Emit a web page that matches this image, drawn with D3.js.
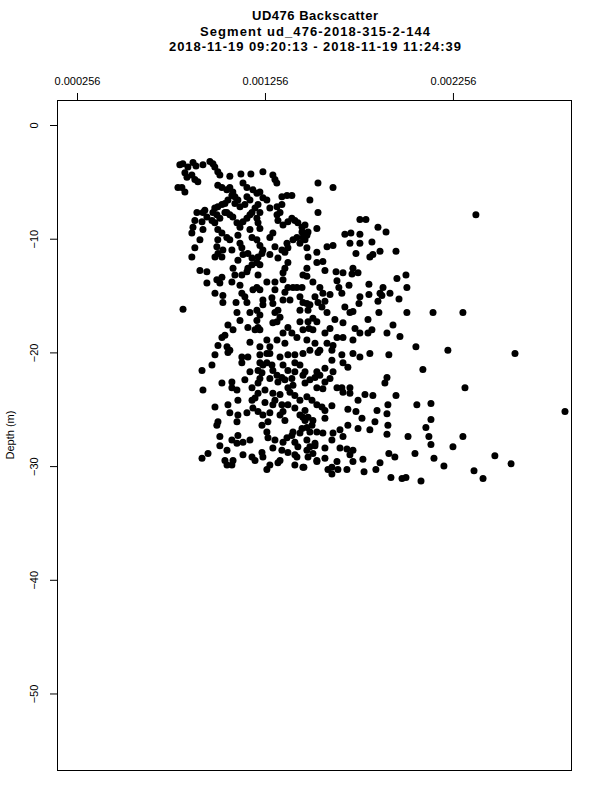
<!DOCTYPE html>
<html>
<head>
<meta charset="utf-8">
<script src="https://cdn.jsdelivr.net/npm/d3@7"></script>
<style>
body { margin: 0; background: #fff; }
text { font-family: "Liberation Sans", Arial, Helvetica, sans-serif; fill: #000; }
</style>
</head>
<body>
<div id="chart"></div>
<script>
var titleLines = ["UD476 Backscatter", "Segment ud_476-2018-315-2-144", "2018-11-19 09:20:13 - 2018-11-19 11:24:39"];
var titleWidths = [126, 230, 292];
var xTicks = [0.000256, 0.001256, 0.002256];
var yTicks = [0, -10, -20, -30, -40, -50];
var yLabel = "Depth (m)";

// [backscatter x 1e-6, depth (m)]
var samples = [
[803,-3.5],[819,-3.4],[846,-3.7],[873,-3.3],[889,-3.6],[926,-3.5],[963,-3.2],[979,-3.4],[989,-3.7],[1005,-4.1],[1016,-4.4],[830,-4.2],[841,-4.6],[867,-4.4],[883,-4.8],[899,-5.0],[793,-5.5],[814,-5.5],[830,-5.9],[1069,-4.5],[1128,-4.3],[1181,-4.3],[1245,-4.1],[1298,-4.4],[1309,-4.8],[1319,-5.1],[1005,-5.3],[1027,-5.5],[1053,-5.7],[1069,-5.5],[1085,-5.9],[1080,-6.2],[1096,-6.3],[1112,-6.6],[1059,-6.6],[1043,-6.9],[1027,-7.0],[1005,-7.2],[989,-7.3],[979,-7.7],[1000,-7.9],[1016,-8.2],[974,-8.4],[989,-8.6],[1139,-5.1],[1160,-5.5],[1192,-5.7],[1213,-6.0],[1229,-5.9],[1245,-6.4],[1266,-6.6],[1176,-6.6],[1160,-6.3],[936,-7.5],[926,-7.7],[894,-7.7],[883,-8.4],[873,-9.0],[867,-9.5],[921,-8.5],[947,-8.1],[1053,-7.7],[1069,-7.9],[1085,-8.1],[1107,-8.6],[1123,-9.0],[1139,-8.5],[1160,-8.2],[1176,-7.9],[1187,-7.7],[1203,-7.3],[1219,-7.0],[1229,-7.7],[1213,-8.2],[1219,-8.6],[1229,-9.1],[1282,-7.3],[1320,-7.2],[1346,-6.3],[1373,-6.2],[1399,-6.2],[1346,-7.0],[1336,-7.7],[1320,-7.9],[1325,-8.4],[1352,-8.8],[1378,-8.5],[1399,-8.2],[1415,-8.4],[1431,-8.6],[1453,-9.0],[1469,-8.8],[1485,-9.4],[1458,-9.9],[1426,-9.9],[1442,-10.4],[1479,-10.8],[1495,-6.6],[1538,-5.1],[1538,-7.7],[1532,-9.1],[1532,-11.2],[1005,-9.2],[1027,-9.5],[1053,-9.9],[1069,-10.1],[1005,-10.1],[1000,-10.7],[1032,-11.0],[1112,-9.7],[1123,-10.4],[1133,-10.8],[1080,-11.0],[1176,-9.2],[1187,-9.9],[1213,-10.1],[1229,-10.6],[1245,-11.0],[1282,-9.9],[1298,-9.5],[1309,-10.7],[1346,-11.0],[1373,-10.4],[1378,-10.8],[1405,-10.1],[926,-9.2],[910,-10.1],[883,-10.8],[867,-11.6],
[1006,-11.3],[1027,-11.6],[990,-11.6],[1112,-11.9],[1139,-11.4],[1165,-11.3],[1187,-11.7],[1219,-11.6],[1240,-11.3],[1282,-11.4],[1325,-11.7],[1362,-11.2],[1378,-12.1],[1229,-12.3],[1213,-12.1],[1187,-12.3],[1165,-12.6],[1485,-11.6],[1532,-12.1],[910,-12.8],[947,-12.9],[1000,-13.6],[1027,-13.4],[1016,-13.9],[947,-13.9],[1086,-12.6],[1096,-13.2],[1080,-13.8],[1133,-13.2],[1160,-12.9],[1219,-13.2],[1266,-13.8],[1309,-13.8],[1352,-13.6],[1352,-13.0],[1362,-12.6],[1458,-13.2],[1479,-12.6],[1511,-13.8],[990,-14.8],[1032,-15.0],[1032,-15.6],[1123,-14.1],[1133,-14.8],[1149,-15.1],[1160,-15.6],[1192,-14.5],[1213,-14.3],[1229,-14.5],[1245,-15.4],[1245,-15.8],[1213,-16.3],[1229,-16.7],[1176,-16.5],[1309,-14.5],[1293,-15.2],[1298,-15.7],[1325,-16.3],[1352,-15.4],[1362,-14.7],[1378,-14.3],[1405,-14.3],[1426,-14.3],[1442,-15.1],[1458,-15.6],[1479,-15.7],[1442,-16.3],[1485,-16.3],[1522,-15.1],[1538,-15.6],[820,-16.2],[1107,-16.5],[1123,-17.2],[1059,-17.6],[1086,-18.0],[1043,-18.5],[1027,-18.7],[1165,-17.8],[1213,-17.2],[1219,-17.8],[1229,-18.0],[1298,-17.4],[1320,-17.3],[1336,-16.9],[1309,-16.5],[1378,-17.8],[1399,-18.3],[1426,-18.7],[1458,-18.0],[1485,-17.3],[1511,-17.0],[1532,-17.3],[1511,-18.0],[1352,-18.3],[1362,-19.2],[1320,-18.9],[1266,-18.9],[1282,-19.5],[1229,-19.5],[1176,-19.1],[1054,-19.5],[1069,-19.8],[1006,-19.4],[990,-20.2],[1133,-20.4],[1165,-20.4],[1229,-20.2],[1282,-20.1],[1336,-20.4],[1378,-20.2],[1458,-20.1],[1495,-19.8],[1522,-19.2],[1538,-20.0],[1479,-18.9],
[1059,-20.0],[1133,-20.9],[1229,-20.9],[1266,-20.1],[1415,-20.2],[1415,-20.9],[974,-21.1],[921,-21.6],[1219,-21.6],[1245,-21.1],[1266,-20.9],[1293,-21.1],[1298,-21.6],[1320,-22.0],[1240,-21.8],[1229,-22.3],[1219,-22.7],[1346,-22.2],[1362,-22.4],[1399,-22.3],[1415,-21.7],[1442,-21.1],[1458,-22.0],[1495,-22.4],[1522,-22.2],[1532,-21.7],[1469,-22.7],[1405,-22.9],[1378,-23.1],[1389,-23.5],[1415,-23.8],[1442,-24.2],[1479,-23.9],[1506,-24.2],[1532,-23.1],[1532,-24.6],[1027,-22.7],[1080,-22.6],[1080,-23.1],[926,-23.3],[1107,-23.3],[1112,-24.2],[1187,-23.1],[1219,-23.6],[1203,-24.0],[1187,-24.2],[1298,-23.6],[1309,-24.2],[1298,-24.6],[1256,-24.4],[1346,-24.6],[1378,-24.6],[1415,-24.9],[1352,-25.2],[1336,-25.5],[1362,-26.0],[990,-24.8],[1059,-24.6],[1069,-25.3],[1112,-25.5],[1160,-25.3],[1192,-24.9],[1219,-25.2],[1245,-25.5],[1282,-25.3],[1107,-26.1],[1006,-26.1],[1000,-26.4],[1240,-26.4],[1272,-26.1],[1469,-26.0],[1485,-25.7],[1511,-26.0],[1506,-26.4],[1479,-26.6],[1453,-26.7],[1405,-27.0],[1399,-27.3],[1442,-27.1],[1495,-27.0],[1532,-27.0],[1016,-27.4],[1112,-27.3],[1266,-27.0],[1272,-27.5],[1309,-27.7],[1352,-27.9],[1373,-27.5],[1415,-27.9],[1080,-27.7],[1107,-28.0],[1139,-27.9],[1176,-27.7],[1016,-28.2],[1054,-28.6],[953,-28.9],[921,-29.3],[1086,-29.5],[1054,-29.9],[1080,-29.9],[1139,-29.0],[1187,-29.2],[1203,-29.5],[1240,-28.8],[1245,-29.2],[1298,-28.4],[1346,-28.6],[1378,-28.8],[1431,-28.3],[1479,-28.6],[1511,-28.9],[1485,-29.2],[1522,-28.0],[1532,-29.5],[1336,-29.5],[1325,-29.7],[1426,-29.2],[1415,-29.9],[1458,-30.1],[1282,-29.9],[1266,-30.3],
[1618,-5.5],[2378,-7.9],[1761,-8.3],[1793,-8.3],[1857,-9.0],[1900,-9.4],[1681,-9.6],[1713,-9.5],[1761,-9.6],[1708,-10.4],[1761,-10.4],[1825,-10.3],[1586,-10.7],[1618,-10.6],[1868,-11.1],[1953,-11.1],[1740,-11.3],[1814,-11.6],[1830,-11.4],[1564,-12.0],[1575,-12.8],[1634,-12.9],[1671,-13.0],[1724,-12.6],[1719,-13.1],[1751,-13.0],[1958,-13.5],[2006,-13.2],[1639,-13.7],[1649,-14.3],[1703,-14.1],[1809,-14.0],[1884,-14.3],[2011,-14.3],[1548,-14.3],[1564,-14.8],[1602,-14.9],[1665,-14.8],[1761,-15.1],[1809,-14.9],[1868,-14.8],[1878,-15.0],[1921,-14.8],[1969,-15.3],[1756,-15.7],[1857,-15.5],[1575,-15.5],[1559,-16.0],[1681,-16.0],[1708,-16.5],[1724,-16.4],[1862,-16.5],[2011,-16.5],[2150,-16.5],[2309,-16.5],[1628,-17.1],[1804,-17.1],[1586,-16.5],[1453,-9.4],[1479,-9.7],[1469,-10.1],[1479,-13.3],[1453,-14.3],[1495,-15.8],
[1671,-17.4],[1937,-17.6],[1905,-18.3],[1974,-18.6],[1825,-18.0],[1804,-18.3],[1735,-17.9],[1761,-18.3],[1724,-18.9],[1671,-18.7],[1602,-17.9],[1575,-18.3],[1639,-18.7],[1586,-19.2],[1618,-19.4],[1548,-19.8],[1612,-19.8],[1665,-20.2],[1724,-20.1],[1761,-20.4],[1814,-20.1],[1915,-20.2],[2059,-19.5],[2229,-19.8],[2586,-20.1],[1612,-20.7],[1671,-20.9],[1697,-21.3],[1575,-21.4],[1618,-21.7],[1548,-22.0],[1602,-22.3],[1575,-22.6],[1564,-23.2],[1639,-23.1],[1665,-23.1],[1708,-23.1],[1671,-23.5],[1708,-23.6],[1905,-22.2],[1894,-22.7],[2096,-21.5],[2320,-23.1],[1788,-23.7],[1830,-23.8],[1953,-23.8],[1559,-24.8],[1612,-24.7],[1575,-25.1],[1751,-24.2],[1697,-25.0],[1740,-25.2],[1852,-25.1],[1910,-24.6],[1905,-25.4],[2064,-24.6],[2139,-24.5],[2852,-25.2],[1575,-25.8],[1772,-25.8],[1841,-26.1],[1697,-26.4],[1751,-26.7],[1814,-26.8],[1910,-26.4],[1905,-27.2],[2139,-25.9],[2112,-26.6],[2128,-27.4],[2017,-27.4],[2309,-27.4],[2256,-28.3],[2139,-28.1],[2054,-28.9],[1915,-28.9],[1947,-29.2],[2155,-29.3],[2208,-30.0],[2479,-29.1],[2565,-29.8],[2368,-30.4],[2416,-31.1],[1564,-27.1],[1618,-27.1],[1655,-26.8],[1671,-27.4],[1612,-27.7],[1522,-28.2],[1575,-28.4],[1655,-28.4],[1692,-28.5],[1724,-28.6],[1708,-29.0],[1575,-29.3],[1532,-29.6],[1639,-29.6],[1724,-29.6],[1777,-29.4],[1868,-29.7],[1463,-30.1],[1612,-30.1],[1644,-30.3],[1692,-30.3],[1591,-30.3],[1612,-30.7],[1783,-30.5],[1846,-30.3],[1926,-31.0],[1985,-31.1],[2006,-31.0],[2086,-31.3],[1469,-21.7],[1458,-25.7],[1479,-27.7],[1495,-28.3],[1490,-17.9],
[1352,-21.1],[1378,-21.6],[1325,-22.6],[1282,-22.3],[1176,-21.7],[1149,-22.4],[1096,-6.9],[1123,-7.2],[1149,-7.0],[1043,-7.7],[1442,-25.5],[1469,-25.1],[1256,-23.3],[1336,-23.7],[1203,-18.0],[1442,-17.3],[1389,-15.4],[1102,-15.6],[1043,-29.5],[1415,-29.0]
];

var width = 600, height = 800;
var plot = {left: 57, right: 571, top: 100, bottom: 770};

var svg = d3.select("#chart").append("svg")
    .attr("width", width)
    .attr("height", height)
    .style("background", "#fff");

var x = d3.scaleLinear().domain([0.0001496, 0.002884]).range([plot.left, plot.right]);
var y = d3.scaleLinear().domain([2.2, -56.73]).range([plot.top, plot.bottom]);

// title
svg.selectAll(".title").data(titleLines).enter().append("text")
    .attr("class", "title")
    .attr("x", 315)
    .attr("y", function (d, i) { return 20 + i * 15.5; })
    .attr("text-anchor", "middle")
    .attr("textLength", function (d, i) { return titleWidths[i]; })
    .attr("lengthAdjust", "spacing")
    .style("font-size", "13px")
    .style("font-weight", "bold")
    .text(function (d) { return d; });

// top axis
var xAxis = svg.append("g")
    .attr("transform", "translate(0," + plot.top + ")")
    .call(d3.axisTop(x).tickValues(xTicks).tickSize(7).tickPadding(8).tickFormat(d3.format(".6f")));
xAxis.select(".domain").remove();
xAxis.selectAll("text").style("font-size", "11px").style("font-family", "'Liberation Sans', Arial, sans-serif");

// left axis
var yAxis = svg.append("g")
    .attr("transform", "translate(" + plot.left + ",0)")
    .call(d3.axisLeft(y).tickValues(yTicks).tickSize(7));
yAxis.select(".domain").remove();
yAxis.selectAll("text")
    .attr("x", null).attr("dy", null)
    .attr("transform", "translate(-19,0) rotate(-90)")
    .attr("text-anchor", "middle")
    .style("font-size", "11px")
    .style("font-family", "'Liberation Sans', Arial, sans-serif");

svg.append("text")
    .attr("transform", "translate(14," + ((plot.top + plot.bottom) / 2) + ") rotate(-90)")
    .attr("text-anchor", "middle")
    .style("font-size", "11px")
    .text(yLabel);

// box
svg.append("rect")
    .attr("x", plot.left + 0.5)
    .attr("y", plot.top + 0.5)
    .attr("width", plot.right - plot.left)
    .attr("height", plot.bottom - plot.top)
    .attr("fill", "none")
    .attr("stroke", "#000")
    .attr("stroke-width", 1);

// points
svg.append("g").selectAll("circle").data(samples).enter().append("circle")
    .attr("cx", function (d) { return x(d[0] * 1e-6); })
    .attr("cy", function (d) { return y(d[1]); })
    .attr("r", 3.5)
    .attr("fill", "#000");
</script>
</body>
</html>
